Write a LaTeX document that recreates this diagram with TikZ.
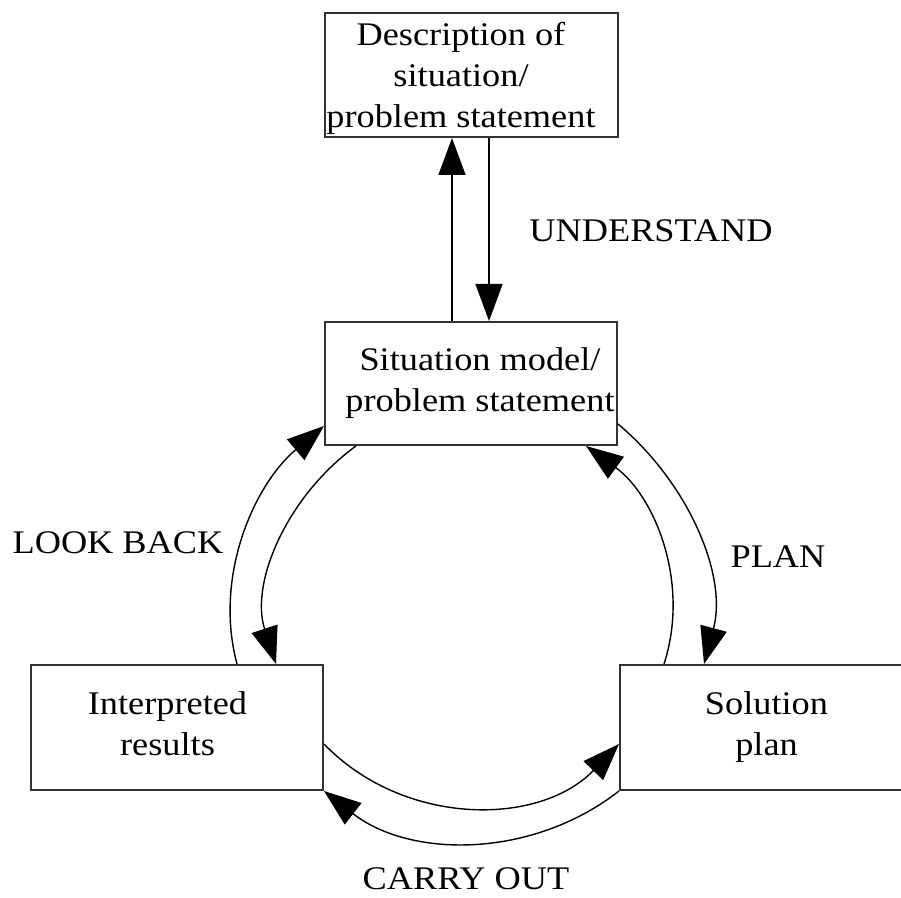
\documentclass[tikz,border=0pt]{standalone}
\usepackage{fontspec}
\setmainfont{Liberation Serif}[FakeStretch=1.1]
\usetikzlibrary{arrows.meta}
\begin{document}
\begin{tikzpicture}[x=1pt,y=1pt,
  box/.style={draw=black!80, line width=2pt, minimum width=292pt, minimum height=124pt, inner sep=0pt},
  boxtext/.style={align=center, inner sep=0pt, font=\fontsize{33}{41}\selectfont},
  tag/.style={inner sep=0pt, font=\fontsize{33}{41}\selectfont},
  flow/.style={line width=1.4pt, -{Triangle[length=37pt,width=27pt]}}]
\useasboundingbox (0,0) rectangle (901,897);
\clip (0,0) rectangle (901,897);

% boxes
\node[box, minimum width=293pt] (desc) at (471.5,822) {};
\node[box, minimum height=123pt] (model) at (471,513.5) {};
\node[box, minimum height=125pt] (interp) at (177,169.5) {};
\node[box, minimum height=125pt] (sol) at (766,169.5) {};

% box texts
\node[boxtext] (desctext) at (461,818.75) {Description of\\situation/\\problem statement};
\node[boxtext] (modeltext) at (480,514.25) {Situation model/\\problem statement};
\node[boxtext] (interptext) at (167.5,173.75) {Interpreted\\results};
\node[boxtext] (soltext) at (766.5,170.25) {Solution\\plan};

% understand: straight arrows between the two upper boxes
\draw[flow] ([xshift=128pt]model.north west) -- ([xshift=128pt]desc.south west);
\draw[flow] ([xshift=165pt]desc.south west) -- ([xshift=165pt]model.north west);

% look back
\draw[flow] ([xshift=207pt]interp.north west) to[out=105,in=220,looseness=0.92] ([yshift=-105pt]model.north west);
\draw[flow] ([xshift=32pt]model.south west) to[out=216,in=108,looseness=0.94] ([xshift=246pt]interp.north west);

% plan
\draw[flow] ([yshift=-103pt]model.north east) to[out=320,in=75,looseness=0.92] ([xshift=85pt]sol.north west);
\draw[flow] ([xshift=45pt]sol.north west) to[out=72,in=324,looseness=0.94] ([xshift=-32pt]model.south east);

% carry out
\draw[flow] ([yshift=-80pt]interp.north east) to[out=314,in=226,looseness=1.0] ([yshift=-80pt]sol.north west);
\draw[flow] (sol.south west) to[out=218,in=322,looseness=0.955] (interp.south east);

% stage labels
\node[tag] (understand) at (651,666) {UNDERSTAND};
\node[tag] (lookback) at (118,354) {LOOK BACK};
\node[tag] (plan) at (778,340) {PLAN};
\node[tag] (carryout) at (466,18) {CARRY OUT};
\end{tikzpicture}
\end{document}
